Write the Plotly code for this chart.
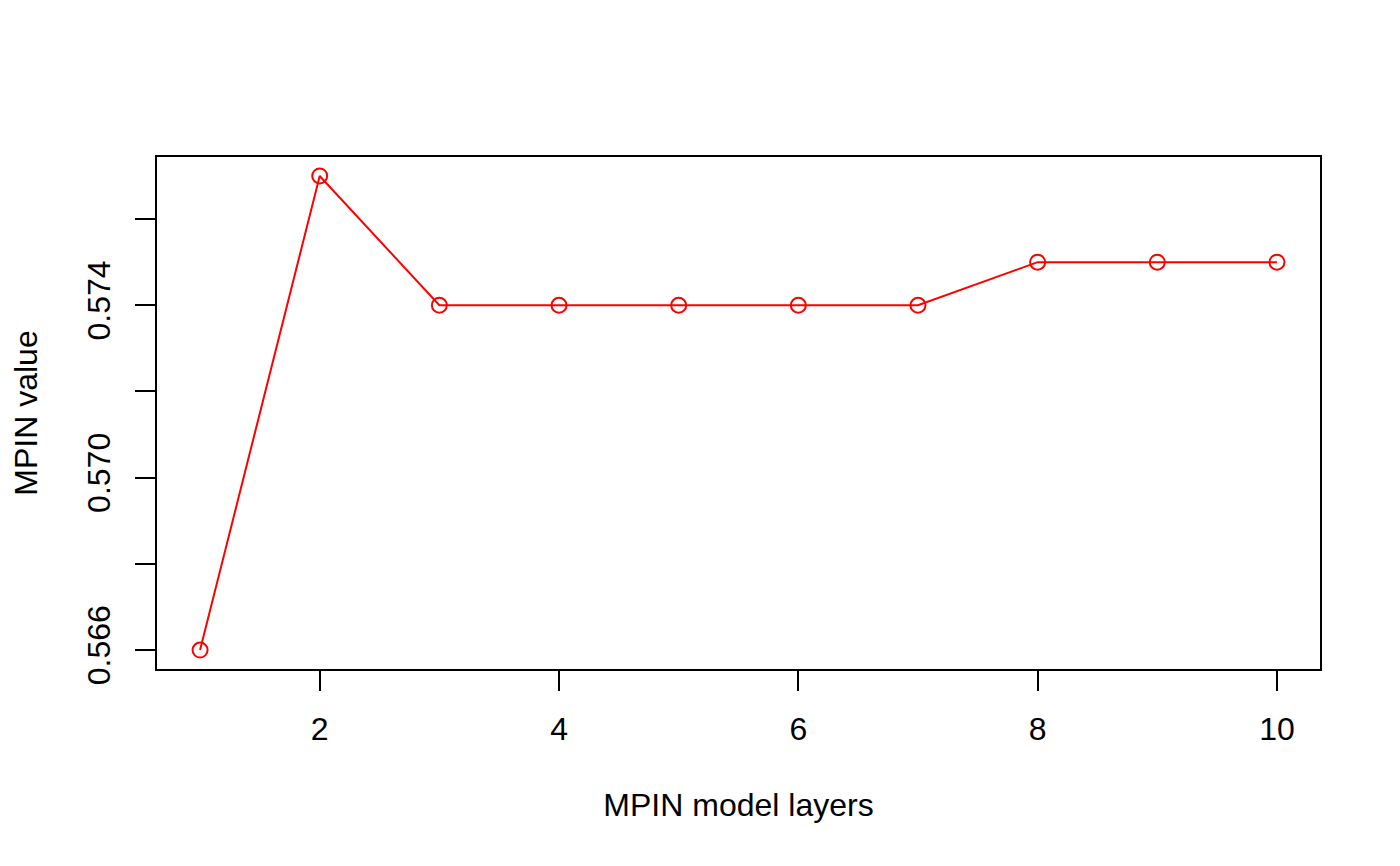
import plotly.graph_objects as go

layers = [1, 2, 3, 4, 5, 6, 7, 8, 9, 10]
mpin_values = [0.566, 0.577, 0.574, 0.574, 0.574, 0.574, 0.574, 0.575, 0.575, 0.575]

x_ticks = [2, 4, 6, 8, 10]
x_ticktext = ["2", "4", "6", "8", "10"]
y_ticks = [0.566, 0.568, 0.570, 0.572, 0.574, 0.576]
y_ticktext = ["0.566", "", "0.570", "", "0.574", ""]

FONT = "Liberation Sans, Arial, Helvetica, sans-serif"

fig = go.Figure()
fig.add_trace(go.Scatter(
    x=layers, y=mpin_values, mode="lines+markers",
    line=dict(color="#FF0000", width=2),
    marker=dict(symbol="circle-open", size=15, color="#FF0000", line=dict(width=2, color="#FF0000")),
    showlegend=False,
))

xmin, xmax = min(layers), max(layers)
ymin, ymax = min(mpin_values), max(mpin_values)
xpad = (xmax - xmin) * 0.04
ypad = (ymax - ymin) * 0.04

# page body has an 8px margin, so the figure is 16px smaller than the window
fig.update_layout(
    width=1384, height=850,
    margin=dict(l=149, r=72, t=149, b=189, pad=0),
    paper_bgcolor="white", plot_bgcolor="white",
    font=dict(family=FONT, size=32, color="black"),
    xaxis=dict(
        range=[xmin - xpad, xmax + xpad],
        tickvals=x_ticks, ticktext=x_ticktext,
        ticks="outside", ticklen=20, tickwidth=2, tickcolor="black",
        ticklabelstandoff=11,
        tickfont=dict(size=32),
        showline=True, linewidth=2, linecolor="black", mirror=True,
        showgrid=False, zeroline=False,
        title=dict(text="MPIN model layers", standoff=47, font=dict(size=32)),
        automargin=False,
    ),
    yaxis=dict(
        range=[ymin - ypad, ymax + ypad],
        tickvals=y_ticks, ticktext=y_ticktext, tickangle=-90,
        ticks="outside", ticklen=20, tickwidth=2, tickcolor="black",
        ticklabelstandoff=12,
        tickfont=dict(size=32),
        showline=True, linewidth=2, linecolor="black", mirror=True,
        showgrid=False, zeroline=False,
        title=dict(text="MPIN value", standoff=43, font=dict(size=32)),
        automargin=False,
    ),
)

fig.write_html("out.html")
